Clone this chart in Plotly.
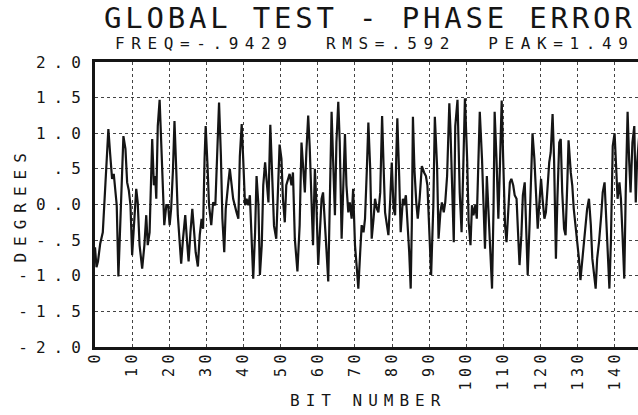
import plotly.graph_objects as go

# Data (bit number vs phase error in degrees)
bit_pos = [
    0.0, 0.4, 0.8, 1.4, 2.1, 3.0, 3.6, 4.05, 4.6, 5.05, 5.4, 5.85, 6.3, 7.0, 7.65, 8.2, 8.65, 9.1, 9.55,
    10.0, 10.45, 11.1, 11.5, 12.0, 12.7, 13.3, 13.8, 14.2, 14.7, 15.1, 15.4, 15.85, 16.2, 16.5, 16.9,
    17.4, 17.8, 18.3, 18.65, 19.2, 19.7, 20.1, 20.5, 21.0, 21.4, 21.9, 22.3, 22.8, 23.2, 23.7, 24.3,
    24.8, 25.2, 25.7, 26.2, 26.7, 27.1, 27.7, 28.2, 28.7, 29.1, 29.5, 29.8, 30.3, 30.7, 31.3, 31.8,
    32.4, 32.9, 33.4, 33.9, 34.3, 34.8, 35.2, 35.9, 36.3, 36.8, 37.2, 38.1, 38.6, 39.0, 39.5, 39.9,
    40.4, 40.8, 41.3, 41.7, 42.2, 42.6, 43.1, 43.5, 44.0, 44.4, 44.9, 45.3, 45.8, 46.2, 46.7, 47.2,
    47.7, 48.2, 48.8, 49.7, 50.2, 50.6, 51.1, 51.5, 52.4, 52.9, 53.3, 53.8, 54.5, 55.1, 55.6, 56.0,
    56.5, 56.9, 57.4, 57.8, 58.3, 58.7, 59.2, 59.6, 60.1, 60.5, 61.0, 61.4, 61.9, 62.3, 62.8, 63.2,
    63.7, 64.1, 64.6, 65.0, 65.5, 65.9, 66.4, 66.8, 67.3, 67.7, 68.2, 68.6, 69.1, 69.5, 70.0, 70.5,
    70.9, 71.4, 71.8, 72.3, 72.7, 73.2, 73.6, 74.1, 74.5, 75.0, 75.4, 75.9, 76.3, 76.8, 77.3, 77.7,
    78.1, 78.6, 79.0, 79.5, 79.9, 80.4, 80.8, 81.1, 81.4, 81.9, 82.3, 82.9, 83.2, 83.7, 84.1, 84.6,
    85.0, 85.3, 85.6, 86.0, 86.5, 86.9, 87.4, 88.0, 88.6, 89.1, 89.5, 90.1, 90.5, 91.1, 91.5, 92.1,
    92.5, 93.0, 93.4, 93.9, 94.3, 94.8, 95.4, 95.7, 96.1, 96.6, 97.0, 97.6, 98.2, 98.7, 99.1, 99.6,
    100.2, 100.6, 101.1, 101.5, 101.9, 102.4, 102.8, 103.3, 103.6, 104.2, 104.6, 105.0, 105.5, 105.9,
    106.4, 106.9, 107.3, 107.6, 108.1, 108.6, 109.0, 109.5, 109.9, 110.4, 110.8, 111.2, 111.7, 112.1,
    112.6, 113.0, 113.5, 113.9, 114.3, 114.8, 115.2, 115.7, 116.1, 116.5, 117.0, 117.4, 117.8, 118.3,
    118.8, 119.2, 119.6, 120.1, 120.5, 121.0, 121.4, 121.9, 122.3, 122.7, 123.2, 123.6, 124.1, 124.5,
    125.0, 125.4, 125.8, 126.3, 126.7, 127.2, 127.5, 128.1, 128.5, 128.9, 129.4, 129.8, 130.3, 130.7,
    131.2, 131.6, 132.0, 132.5, 133.0, 133.5, 133.9, 134.3, 134.8, 135.2, 135.7, 136.3, 136.7, 137.2,
    137.6, 138.1, 138.5, 138.9, 139.4, 139.9, 140.3, 140.7, 141.2, 141.6, 142.0, 142.5, 142.9, 143.4,
    143.8, 144.2, 144.7, 145.2, 145.6, 145.9, 146.5,
]
phase_deg = [
    -0.60, -0.88, -0.80, -0.55, -0.39, 0.50, 1.06, 0.73, 0.36, 0.43, 0.27, -0.01, -1.01, -0.01, 0.96, 0.78, 0.31, 0.20, -0.01,
    -0.71, -0.29, 0.22, 0.03, -0.57, -0.90, -0.57, -0.15, -0.57, -0.39, 0.50, 0.92, 0.27, 0.40, 0.08, 1.10,
    1.47, 0.92, 0.08, -0.29, -0.01, -0.01, -0.29, -0.06, 0.50, 1.17, 0.45, -0.15, -0.53, -0.83, -0.48, -0.15,
    -0.53, -0.80, -0.39, -0.06, -0.39, -0.67, -0.87, -0.43, -0.20, -0.34, 0.64, 1.10, 0.54, -0.01, -0.29, 0.03,
    -0.01, 0.64, 1.43, 0.68, -0.20, -0.67, -0.06, 0.31, 0.50, 0.27, 0.08, -0.11, -0.20, 0.68, 1.13, 0.64,
    -0.01, 0.08, -0.01, 0.13, -0.53, -1.04, -0.39, 0.40, -0.01, -0.99, -0.57, 0.27, 0.59, 0.36, 0.03, 1.12,
    0.30, -0.30, -0.48, 0.84, 0.64, 0.08, -0.25, 0.27, 0.43, 0.27, 0.45, -0.48, -0.94, -0.29, 0.87, 0.50,
    0.17, 0.73, 1.25, 0.82, 0.03, -0.57, 0.50, 0.03, -0.85, -0.39, 0.08, 0.17, -0.20, -0.62, -1.08, -0.06,
    1.30, 0.64, -0.15, 0.87, 1.44, 0.87, -0.48, 0.17, 0.99, 0.27, -0.11, 0.03, -0.20, 0.22, -0.57, -0.90,
    -1.18, -0.67, -0.29, -0.39, -0.20, 0.50, 1.15, 0.50, -0.48, -0.20, 0.08, -0.06, -0.11, 0.17, 1.24, 0.54,
    -0.11, -0.29, -0.43, 0.08, 0.59, -0.06, -0.15, 0.64, 1.21, 0.40, -0.39, 0.08, -0.01, 0.13, -0.20, -0.67,
    -1.18, -0.29, 1.23, 0.50, 0.03, -0.20, 0.08, 0.54, 0.45, 0.40, 0.27, -0.57, -0.99, -0.01, 1.23, 0.54,
    -0.48, -0.11, 0.03, -0.11, 0.03, 0.40, 1.42, 1.06, 0.36, -0.53, 1.10, 1.47, 0.17, -0.39, 0.40, 1.49,
    0.64, -0.25, -0.57, -0.01, -0.15, -0.01, -0.20, 0.80, 1.30, 0.64, -0.20, -0.62, 0.40, -0.06,
    -0.57, -1.18, -0.06, 1.30, 0.64, -0.20, 0.50, 1.46, 0.64, -0.29, -0.53, -0.15, 0.31, 0.36,
    0.27, 0.13, 0.08, -0.39, -0.85, -0.43, 0.13, 0.31, -0.39, -0.99, -0.29, 0.54, 1.00, 0.64,
    0.17, -0.34, -0.01, 0.36, 0.08, -0.20, -0.11, 0.27, 0.59, 0.73, 1.27, 0.64, -0.76, 0.08,
    0.87, 0.92, 0.17, -0.34, -0.43, 0.36, 0.90, 0.45, 0.27, -0.06, -0.29, -0.48, -0.76, -1.06,
    -0.76, -0.57, -0.29, -0.06, 0.08, -0.29, -0.76, -0.99, -1.18, -0.76, -0.53, -0.15, 0.17, 0.31,
    -0.15, -0.76, -1.18, -0.53, 0.82, 1.00, 0.40, 0.08, 0.31, 0.08, -0.39, -1.04, 0.17, 1.30,
    0.64, 0.17, 0.87, 1.10, 0.03, 0.54, 0.95,
]

x_ticks = list(range(0, 150, 10))
y_ticks = [2.0, 1.5, 1.0, 0.5, 0.0, -0.5, -1.0, -1.5, -2.0]
y_labels = ["2.0", "1.5", "1.0", ".5", "0.0", "-.5", "-1.0", "-1.5", "-2.0"]

FONT = "DejaVu Sans Mono"
INK = "#151515"


def spaced(text, px):
    # plotter lettering is widely spaced
    return '<span style="letter-spacing:%spx">%s</span>' % (px, text)


fig = go.Figure()

fig.add_trace(go.Scatter(
    x=bit_pos,
    y=phase_deg,
    mode="lines",
    line=dict(color=INK, width=2.2),
    hoverinfo="skip",
))

fig.update_layout(
    width=638,
    height=415,
    margin=dict(l=95, r=0, t=62, b=68),
    paper_bgcolor="white",
    plot_bgcolor="white",
    showlegend=False,
    font=dict(family=FONT, color=INK, size=14),
    xaxis=dict(
        range=[0, 146.2],
        tickvals=x_ticks,
        ticktext=[spaced(str(v), 4.5) for v in x_ticks],
        tickangle=-90,
        tickfont=dict(size=15),
        ticks="",
        ticklabelstandoff=-6,
        showgrid=True,
        gridcolor="#444",
        griddash="dot",
        gridwidth=1,
        zeroline=False,
        showline=True,
        linecolor=INK,
        linewidth=3,
        mirror=True,
    ),
    yaxis=dict(
        range=[-2, 2],
        tickvals=y_ticks,
        ticktext=[spaced(t, 8) for t in y_labels],
        tickfont=dict(size=16),
        ticks="",
        ticklabelstandoff=0,
        showgrid=True,
        gridcolor="#444",
        griddash="dot",
        gridwidth=1,
        zeroline=False,
        showline=True,
        linecolor=INK,
        linewidth=3,
    ),
    annotations=[
        dict(text=spaced("GLOBAL TEST - PHASE ERROR", 3.8), xref="paper", yref="paper",
             x=0.012, y=1.155, xanchor="left", yanchor="middle", showarrow=False,
             font=dict(size=29, family=FONT, color=INK)),
        dict(text=spaced("FREQ=-.9429  RMS=.592  PEAK=1.49", 6.6), xref="paper", yref="paper",
             x=0.033, y=1.065, xanchor="left", yanchor="middle", showarrow=False,
             font=dict(size=16, family=FONT, color=INK)),
        dict(text=spaced("BIT NUMBER", 6), xref="paper", yref="paper",
             x=0.355, y=-0.186, xanchor="left", yanchor="middle", showarrow=False,
             font=dict(size=16, family=FONT, color=INK)),
        dict(text=spaced("DEGREES", 7), xref="paper", yref="paper",
             x=-0.138, y=0.5, xanchor="center", yanchor="middle", textangle=-90,
             showarrow=False, font=dict(size=16, family=FONT, color=INK)),
    ],
)

# drop the browser's default 8px body margin so the figure sits at the page corner
fig.write_html("out.html", config={"displayModeBar": False},
               post_script="document.body.style.margin='0';")
